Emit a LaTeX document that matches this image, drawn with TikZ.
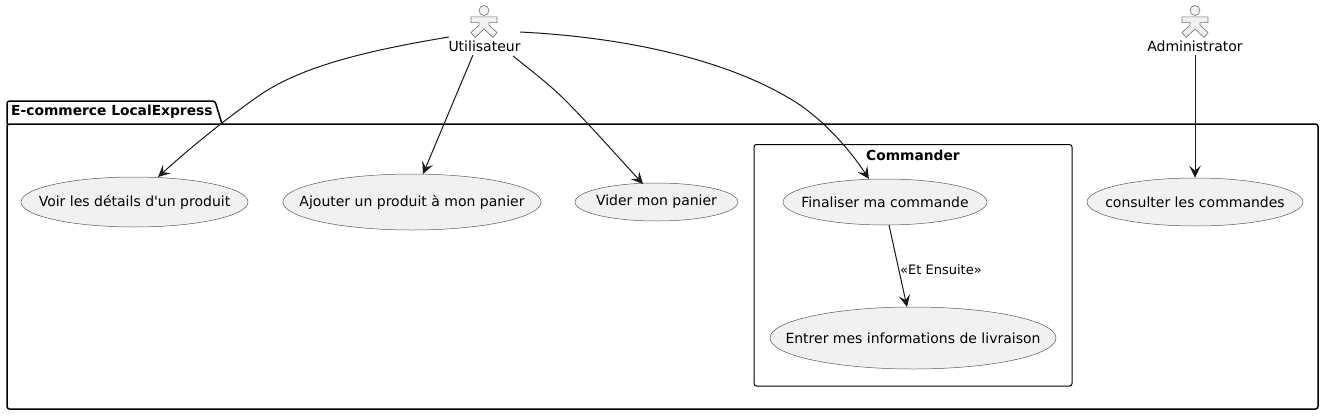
\documentclass[tikz,border=0pt]{standalone}
\usepackage{fontspec}
\setmainfont{DejaVu Sans}
\newfontfamily\plainface{DejaVu Sans}
\usetikzlibrary{arrows.meta,shapes.geometric}
\definecolor{ufill}{HTML}{F1F1F1}
\definecolor{uline}{HTML}{5A5A5A}
\definecolor{aline}{HTML}{707070}
\definecolor{ink}{HTML}{181818}
\tikzset{
 x=1pt,y=-1pt,
 uc/.style={ellipse,draw=uline,fill=ufill,line width=.5pt,inner sep=0pt,font=\fontsize{14}{16}\selectfont,text=black},
 lab/.style={inner sep=0pt,font=\fontsize{14}{16}\selectfont,text=black},
 conn/.style={draw=ink,line width=1pt,-{Stealth[length=12pt,width=11.5pt,inset=5pt]}},
 frame/.style={draw=black,line width=1.5pt,rounded corners=2.5pt},
 actorshape/.style={draw=aline,fill=ufill,line width=.6pt},
 title/.style={inner sep=0pt,font=\fontsize{13.8}{16}\selectfont\bfseries,text=black}
}
\newcommand{\actorfig}[1]{%
 \begin{scope}[shift={(#1,0)}]
 \draw[actorshape] (0,10.5) circle (5);
 \draw[actorshape,line join=miter] (-2.5,16.8)--(-13,16.8)--(-13,22.6)--(-5,22.6)--(-5,25)--(-13,32.5)--(-9,37.5)--(0,29)--(9,37.5)--(13,32.5)--(5,25)--(5,22.6)--(13,22.6)--(13,16.8)--cycle;
 \end{scope}}
\newcommand{\fit}[1]{\makebox[0pt]{#1}}
\begin{document}
\begin{tikzpicture}
\useasboundingbox (0,0) rectangle (1324,415);
\draw[frame] (7,124)--(7,101)--(215,101)--(222,124);
\draw[frame] (7,124) rectangle (1318,409);
\node[title,anchor=west] (pkg) at (11,112) {E-commerce LocalExpress};
\draw[draw=black,line width=1pt,rounded corners=2.5pt] (754,144.5) rectangle (1072,386);
\node[title] (cmd) at (913,155) {Commander};
\actorfig{484}
\actorfig{1195}
\node[lab] (u) at (484.5,46.5) {Utilisateur};
\node[lab] (a) at (1195,46.5) {Administrator};
\node[uc,minimum width=227pt,minimum height=50pt] (voir) at (134.5,202) {\fit{\plainface Voir les détails d'un produit}};
\node[uc,minimum width=258pt,minimum height=56pt] (ajouter) at (412,202) {\fit{Ajouter un produit à mon panier}};
\node[uc,minimum width=163pt,minimum height=38pt] (vider) at (656.5,202) {\fit{Vider mon panier}};
\node[uc,minimum width=204pt,minimum height=46pt] (fin) at (885,202) {\fit{Finaliser ma commande}};
\node[uc,minimum width=286pt,minimum height=62pt] (ent) at (913,338) {\fit{Entrer mes informations de livraison}};
\node[uc,minimum width=216pt,minimum height=48pt] (cons) at (1195,202) {\fit{consulter les commandes}};
\coordinate (u1) at (449,37);
\coordinate (u2) at (473,55);
\coordinate (u3) at (513,56);
\coordinate (u4) at (520,32);
\coordinate (a1) at (1195,55);
\draw[conn] (u1) .. controls (370,50) and (302,66) .. (260,95) .. controls (228,117) and (190,148) .. (158,177);
\draw[conn] (u2) -- (423,174);
\draw[conn] (u3) .. controls (533,72) and (550,85) .. (565,100) .. controls (590,125) and (618,157) .. (643,184);
\draw[conn] (u4) .. controls (640,38) and (740,65) .. (800,105) .. controls (826,123) and (850,150) .. (869,179);
\draw[conn] (889,225) -- (907,307);
\draw[conn] (a1) -- (cons.north);
\node[lab,anchor=west,font=\fontsize{13}{15}\selectfont] (et) at (900,270) {«Et Ensuite»};
\end{tikzpicture}
\end{document}
